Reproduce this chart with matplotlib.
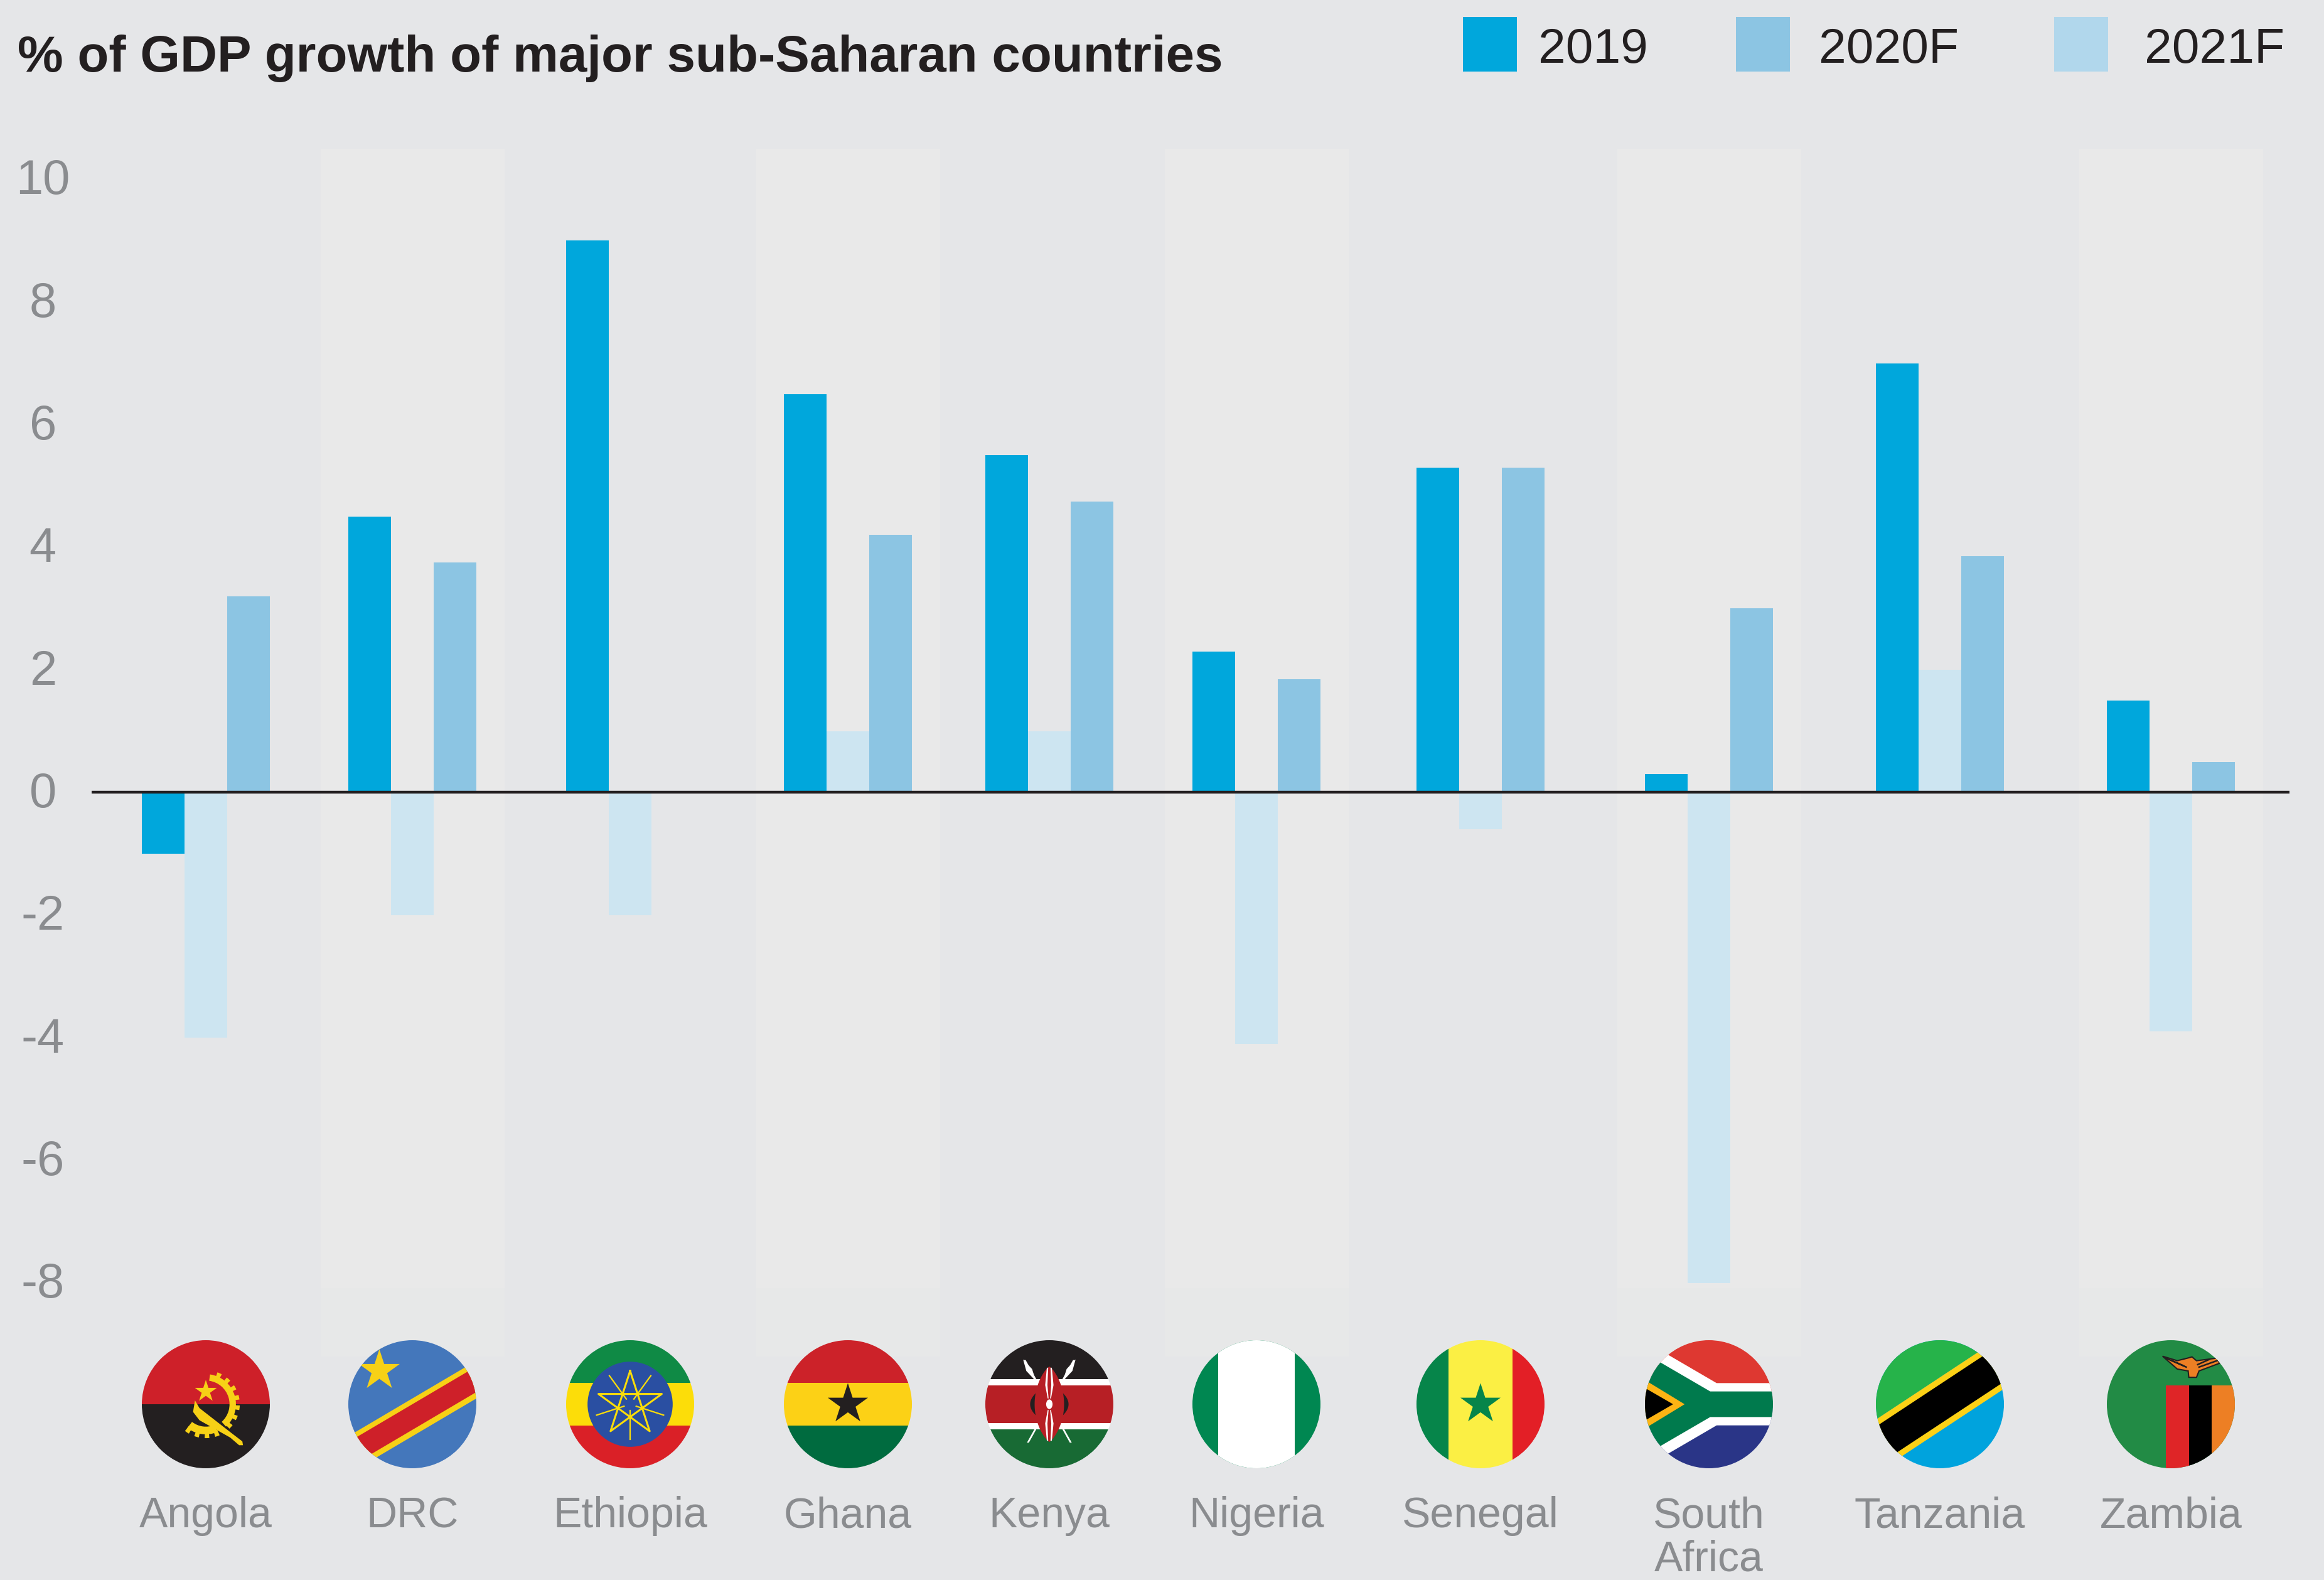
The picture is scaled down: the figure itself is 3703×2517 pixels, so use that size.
import numpy as np
import matplotlib
matplotlib.use("Agg")
import matplotlib.pyplot as plt
from matplotlib.patches import Circle, Ellipse, Polygon, Rectangle, Wedge
from matplotlib.transforms import ScaledTranslation

W, H = 3703, 2517

countries = ["Angola", "DRC", "Ethiopia", "Ghana", "Kenya", "Nigeria", "Senegal",
             "South\nAfrica", "Tanzania", "Zambia"]
growth_2019 = [-1.0, 4.5, 9.0, 6.5, 5.5, 2.3, 5.3, 0.3, 7.0, 1.5]
growth_2020f = [3.2, 3.75, 0.0, 4.2, 4.75, 1.85, 5.3, 3.0, 3.85, 0.5]
growth_2021f = [-4.0, -2.0, -2.0, 1.0, 1.0, -4.1, -0.6, -8.0, 2.0, -3.9]
y_ticks = [-8, -6, -4, -2, 0, 2, 4, 6, 8, 10]
legend_labels = ["2019", "2020F", "2021F"]

# group centres are not evenly spaced in the original, in pixels
centres = np.array([328, 657, 1004, 1351, 1672, 2002, 2359, 2723, 3091, 3459])
band_idx = [1, 3, 5, 7, 9]

BG = "#e5e6e8"
C19 = "#00a7dc"
C20 = "#8cc5e3"
C21 = "#cde5f1"
C21_KEY = "#b1d7ec"
GREY = "#8a8c8f"
DARK = "#231f20"
BODY_FONT = {"family": "Liberation Sans"}


def px_rect(x0, y0, x1, y1):
    # pixel box (y from top) to figure fractions
    return [x0 / W, 1 - y1 / H, (x1 - x0) / W, (y1 - y0) / H]


def star_pts(cx, cy, r, ratio=0.382):
    pts = []
    for i in range(10):
        a = np.pi / 2 + i * np.pi / 5
        rr = r if i % 2 == 0 else r * ratio
        pts.append((cx + rr * np.cos(a), cy + rr * np.sin(a)))
    return pts


class Flag:
    def __init__(self, fig, cx, cy=2237, r=102):
        self.ax = fig.add_axes(px_rect(cx - r, cy - r, cx + r, cy + r))
        self.ax.set_xlim(-1, 1)
        self.ax.set_ylim(-1, 1)
        self.ax.axis("off")
        self.clip = Circle((0, 0), 1, transform=self.ax.transData)

    def add(self, p):
        self.ax.add_patch(p)
        p.set_clip_path(self.clip)
        return p

    def rect(self, x0, y0, x1, y1, color):
        self.add(Rectangle((x0, y0), x1 - x0, y1 - y0, fc=color, ec="none"))

    def poly(self, pts, color, **kw):
        kw.setdefault("ec", "none")
        self.add(Polygon(pts, closed=True, fc=color, **kw))

    def star(self, cx, cy, r, color):
        self.poly(star_pts(cx, cy, r), color)

    def diag(self, slope, c0, c1, color):
        # band between two parallel lines y = slope*x + c
        self.poly([(-1.2, -1.2 * slope + c0), (1.2, 1.2 * slope + c0),
                   (1.2, 1.2 * slope + c1), (-1.2, -1.2 * slope + c1)], color)


def flag_angola(f):
    yellow = "#f7d116"
    f.rect(-1, 0, 1, 1, "#ce2029")
    f.rect(-1, -1, 1, 0, DARK)
    f.add(Wedge((0.0, 0.0), 0.47, -48, 82, width=0.10, fc=yellow, ec="none"))
    f.add(Wedge((0.0, 0.0), 0.47, 232, 292, width=0.12, fc=yellow, ec="none"))
    for a in list(range(-42, 82, 18)) + list(range(236, 292, 18)):
        f.add(Wedge((0.0, 0.0), 0.53, a - 4, a + 4, width=0.1, fc=yellow, ec="none"))
    f.poly([(-0.17, 0.06), (-0.1, -0.06), (0.4, -0.45), (0.57, -0.58), (0.58, -0.64),
            (0.52, -0.64), (0.38, -0.52), (-0.1, -0.25), (-0.2, -0.12)], yellow)
    f.star(0.0, 0.2, 0.18, yellow)


def flag_drc(f):
    f.rect(-1, -1, 1, 1, "#4477bb")
    f.diag(0.59, 0.09, -0.5, "#f7d116")
    f.diag(0.59, 0.0, -0.4, "#ce2029")
    f.star(-0.515, 0.525, 0.335, "#f7d116")


def flag_ethiopia(f):
    yellow = "#fcdd09"
    f.rect(-1, 1 / 3, 1, 1, "#0f8a45")
    f.rect(-1, -1 / 3, 1, 1 / 3, yellow)
    f.rect(-1, -1, 1, -1 / 3, "#da2027")
    f.add(Circle((0, 0), 0.665, fc="#2a4fa2", ec="none"))
    pts = star_pts(0, 0, 0.52, ratio=1)
    order = [0, 4, 8, 2, 6, 0]
    xs = [pts[i][0] for i in order]
    ys = [pts[i][1] for i in order]
    f.ax.plot(xs, ys, color=yellow, lw=2.2, clip_path=f.clip)
    for a in np.arange(5) * 72 + 90 + 36:
        f.ax.plot([0.1 * np.cos(np.radians(a)), 0.55 * np.cos(np.radians(a))],
                  [0.1 * np.sin(np.radians(a)), 0.55 * np.sin(np.radians(a))],
                  color=yellow, lw=1.6)


def flag_ghana(f):
    f.rect(-1, 1 / 3, 1, 1, "#cc2229")
    f.rect(-1, -1 / 3, 1, 1 / 3, "#fcd116")
    f.rect(-1, -1, 1, -1 / 3, "#006b3f")
    f.star(0, 0, 0.33, DARK)


def flag_kenya(f):
    f.rect(-1, 0.39, 1, 1, DARK)
    f.rect(-1, 0.295, 1, 0.39, "white")
    f.rect(-1, -0.295, 1, 0.295, "#b71f25")
    f.rect(-1, -0.39, 1, -0.295, "white")
    f.rect(-1, -1, 1, -0.39, "#186a34")
    for sx in (-1, 1):
        # spear shaft and blade as polygons so they stay under the shield
        f.poly([(sx * 0.40, 0.69), (sx * 0.37, 0.69), (-sx * 0.35, -0.6), (-sx * 0.32, -0.6)], "white")
        f.poly([(sx * 0.41, 0.7), (sx * 0.36, 0.52), (sx * 0.21, 0.36), (sx * 0.27, 0.55)], "white")
    t = np.linspace(-1, 1, 40)
    f.poly(np.r_[np.c_[0.30 * (1 - t ** 2), t * 0.32], np.c_[-0.30 * (1 - t[::-1] ** 2), t[::-1] * 0.32]], DARK)
    f.poly(np.r_[np.c_[0.23 * (1 - t ** 2) ** 0.8, t * 0.59], np.c_[-0.23 * (1 - t[::-1] ** 2) ** 0.8, t[::-1] * 0.59]],
           "#b71f25")
    for s in (1, -1):
        for x0, x1 in ((-0.065, -0.03), (0.03, 0.065)):
            f.poly([(x0 * 0.4, s * 0.09), (x0, s * 0.3), (x0 * 0.6, s * 0.57), (x1 * 0.6, s * 0.57),
                    (x1, s * 0.3), (x1 * 0.4, s * 0.09)], "white")
    f.add(Ellipse((0, 0), 0.1, 0.15, fc="white", ec="none"))


def flag_nigeria(f):
    f.rect(-1, -1, 1, 1, "#008751")
    f.rect(-0.6, -1, 0.6, 1, "white")


def flag_senegal(f):
    f.rect(-1, -1, -0.5, 1, "#06854a")
    f.rect(-0.5, -1, 0.5, 1, "#fbef44")
    f.rect(0.5, -1, 1, 1, "#e31f26")
    f.star(0, 0, 0.33, "#06854a")


def flag_south_africa(f):
    f.rect(-1, 0, 1, 1, "#de3831")
    f.rect(-1, -1, 1, 0, "#2a3587")
    f.poly([(-1.2, 1.1), (0.12, 0.33), (1.1, 0.33), (1.1, -0.33), (0.12, -0.33), (-1.2, -1.1)], "white")
    f.poly([(-1.2, 0.91), (0.02, 0.2), (1.1, 0.2), (1.1, -0.2), (0.02, -0.2), (-1.2, -0.91)], "#007a4d")
    f.poly([(-1.2, 0.5), (-0.38, 0), (-1.2, -0.5)], "#fdb414")
    f.poly([(-1.2, 0.37), (-0.56, 0), (-1.2, -0.37)], "black")


def flag_tanzania(f):
    f.rect(-1, -1, 1, 1, "#00a3dd")
    f.poly([(-1.2, -0.372), (1.2, 1.212), (-1.2, 1.212)], "#26b34a")
    f.diag(0.66, 0.42, -0.42, "#fcd116")
    f.diag(0.66, 0.31, -0.31, "black")


def flag_zambia(f):
    f.rect(-1, -1, 1, 1, "#228b45")
    f.rect(-0.08, -1, 0.28, 0.29, "#df2527")
    f.rect(0.28, -1, 0.64, 0.29, "black")
    f.rect(0.64, -1, 1, 0.29, "#ed7f24")
    f.poly([(-0.13, 0.75), (0.1, 0.68), (0.26, 0.72), (0.33, 0.74), (0.4, 0.68), (0.72, 0.72),
            (0.76, 0.64), (0.44, 0.52), (0.4, 0.42), (0.28, 0.42), (0.27, 0.52), (0.1, 0.55)],
           "#ed7f24", ec=DARK, lw=1.5)
    # dark feather marks on the eagle
    for x0, y0, x1, y1 in [(-0.08, 0.72, 0.2, 0.6), (0.02, 0.68, 0.24, 0.58),
                           (0.72, 0.68, 0.44, 0.58), (0.6, 0.7, 0.42, 0.62)]:
        f.ax.plot([x0, x1], [y0, y1], color=DARK, lw=1.8)


flag_funcs = [flag_angola, flag_drc, flag_ethiopia, flag_ghana, flag_kenya, flag_nigeria,
              flag_senegal, flag_south_africa, flag_tanzania, flag_zambia]

fig = plt.figure(figsize=(W / 100, H / 100), dpi=100, facecolor=BG)

# axes box: x runs in pixels, y=0 sits at 1262 px, 97.65 px per unit
ax = fig.add_axes(px_rect(146, 237, 3648, 2161))
ax.set_facecolor("none")
ax.set_xlim(146, 3648)
ax.set_ylim(-9.2, 10.5)
for s in ax.spines.values():
    s.set_visible(False)

# alternating pale bands behind the groups
band_x = centres[band_idx]
ax.bar(band_x, 18.58, width=293, bottom=-8.08, color="#e9e9e9", zorder=0)
ax.bar(band_x, 1.12, width=293, bottom=-9.2, color="#e7e8e8", zorder=0)

bar_w = 68
ax.bar(centres - bar_w, growth_2019, width=bar_w, color=C19, zorder=2)
ax.bar(centres, growth_2021f, width=bar_w, color=C21, zorder=2)
ax.bar(centres + bar_w, growth_2020f, width=bar_w, color=C20, zorder=2)
ax.axhline(0, color=DARK, lw=3.2, zorder=3)

ax.set_yticks(y_ticks)
ax.set_yticklabels([str(v) for v in y_ticks], ha="center", color=GREY, fontsize=56, **BODY_FONT)
ax.tick_params(axis="y", length=0, pad=56)
nudge = ScaledTranslation(0, 5 / 100, fig.dpi_scale_trans)
for lab in ax.get_yticklabels():
    lab.set_transform(lab.get_transform() + nudge)
ax.set_xticks(centres)
ax.set_xticklabels(countries, color=GREY, fontsize=49, va="top", linespacing=1.1, **BODY_FONT)
ax.tick_params(axis="x", length=0, pad=160)

for fn, cx in zip(flag_funcs, centres):
    fn(Flag(fig, cx))

fig.text(28 / W, 1 - 114 / H, "% of GDP growth of major sub-Saharan countries", fontsize=58.9,
         family="Liberation Sans", weight="bold", color=DARK, va="baseline", ha="left")

# legend keys are spaced unevenly, so placed by hand
key_x = [2331, 2766, 3273]
text_x = [2451, 2898, 3417]
for lab, kx, tx, c in zip(legend_labels, key_x, text_x, [C19, C20, C21_KEY]):
    fig.patches.append(Rectangle((kx / W, 1 - 114 / H), 86 / W, 87 / H, transform=fig.transFigure,
                                 fc=c, ec="none", figure=fig))
    fig.text(tx / W, 1 - 100 / H, lab, fontsize=56.5, color=DARK, va="baseline", ha="left", **BODY_FONT)

fig.savefig("out.png", dpi=100, facecolor=BG)
